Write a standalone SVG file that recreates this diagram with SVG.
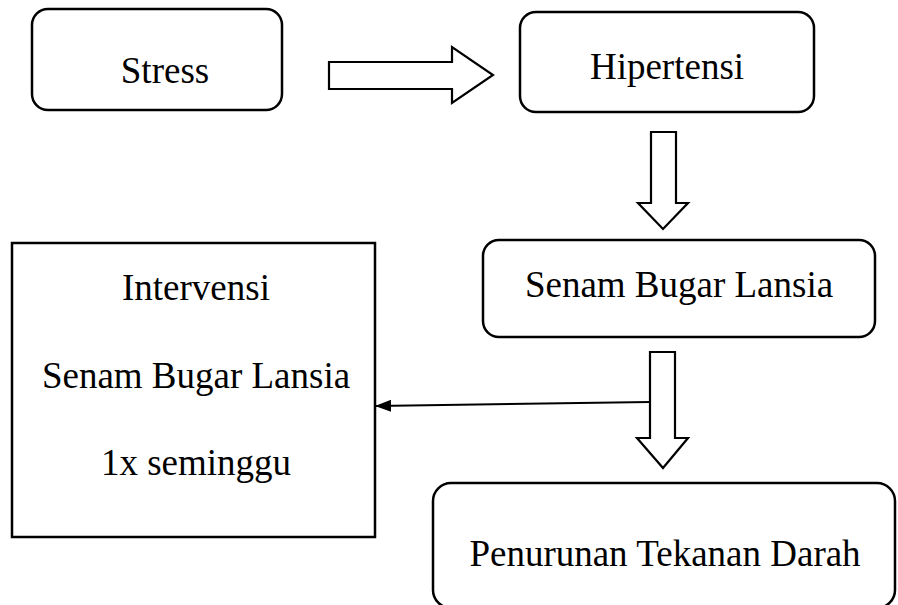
<svg xmlns="http://www.w3.org/2000/svg" width="898" height="605" viewBox="0 0 898 605">
<style>
.box{fill:#fff;stroke:#000;stroke-width:2.5}
.arr{fill:#fff;stroke:#000;stroke-width:2.2;stroke-linejoin:miter}
.t{font-family:'Liberation Serif','Times New Roman','DejaVu Serif',serif;font-size:37px;fill:#000;text-anchor:middle}
.line{stroke:#000;stroke-width:2;fill:none}
</style>
<defs>
<marker id="ah" markerWidth="16" markerHeight="12" refX="15" refY="6" orient="auto" markerUnits="userSpaceOnUse">
<path d="M0,0 L16,6 L0,12 Z" fill="#000"/>
</marker>
</defs>
<rect width="898" height="605" fill="#fff"/>
<g id="stress">
<rect class="box" x="32" y="9" width="250" height="101" rx="16"/>
<text class="t" x="165" y="83" font-family="Liberation Serif, serif">Stress</text>
</g>
<g id="hipertensi">
<rect class="box" x="520" y="12" width="294" height="100" rx="16"/>
<text class="t" x="667" y="79" font-family="Liberation Serif, serif">Hipertensi</text>
</g>
<g id="senam">
<rect class="box" x="483" y="240" width="392" height="97" rx="16"/>
<text class="t" x="679" y="297" font-family="Liberation Serif, serif">Senam Bugar Lansia</text>
</g>
<g id="intervensi">
<rect class="box" x="12" y="243" width="363" height="294"/>
<text class="t" x="196" y="300" font-family="Liberation Serif, serif">Intervensi</text>
<text class="t" x="196" y="388" font-family="Liberation Serif, serif">Senam Bugar Lansia</text>
<text class="t" x="196" y="475" font-family="Liberation Serif, serif">1x seminggu</text>
</g>
<g id="penurunan">
<rect class="box" x="433" y="483" width="462" height="125" rx="18"/>
<text class="t" x="665" y="566" font-family="Liberation Serif, serif">Penurunan Tekanan Darah</text>
</g>
<g id="connectors">
<path class="arr" d="M329,62 L452,62 L452,47 L493,75 L452,103 L452,89 L329,89 Z"/>
<path class="arr" d="M651,132 L676,132 L676,203 L688,203 L663,229 L638,203 L651,203 Z"/>
<path class="arr" d="M650,352 L675,352 L675,438 L688,438 L663,468 L637,438 L650,438 Z"/>
<line class="line" x1="650" y1="402" x2="376" y2="406" marker-end="url(#ah)"/>
</g>
</svg>
